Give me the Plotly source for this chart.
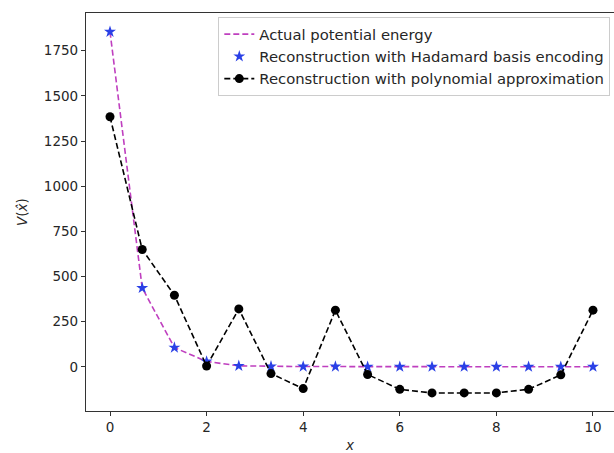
import plotly.graph_objects as go

# Data
x_vals = [0, 0.6667, 1.3333, 2.0, 2.6667, 3.3333, 4.0, 4.6667, 5.3333, 6.0,
          6.6667, 7.3333, 8.0, 8.6667, 9.3333, 10.0]
actual_energy = [1855, 437, 107, 30, 6, 3, 2, 2, 1, 1, 1, 1, 1, 1, 1, 1]
hadamard_recon = [1855, 437, 107, 30, 6, 3, 2, 2, 1, 1, 1, 1, 1, 1, 1, 1]
poly_recon = [1385, 650, 397, 5, 321, -37, -120, 314, -42, -124, -144, -144,
              -144, -124, -44, 314]

x_ticks = [0, 2, 4, 6, 8, 10]
y_ticks = [0, 250, 500, 750, 1000, 1250, 1500, 1750]

FONT = "DejaVu Sans"
TXT = "#262626"

fig = go.Figure()

fig.add_trace(go.Scatter(
    x=x_vals, y=actual_energy, mode="lines",
    name="Actual potential energy",
    line=dict(color="#bf3fbf", width=1.6, dash="6px,3px"),
))
fig.add_trace(go.Scatter(
    x=x_vals, y=hadamard_recon, mode="markers",
    name="Reconstruction with Hadamard basis encoding",
    marker=dict(symbol="star", size=9, color="#2a40e6", line=dict(width=0)),
))
fig.add_trace(go.Scatter(
    x=x_vals, y=poly_recon, mode="lines+markers",
    name="Reconstruction with polynomial approximation",
    line=dict(color="black", width=1.6, dash="6px,3px"),
    marker=dict(symbol="circle", size=9, color="black"),
))

fig.update_layout(
    width=614, height=453,
    margin=dict(l=86, r=0, t=13, b=42),
    paper_bgcolor="white", plot_bgcolor="white",
    font=dict(family=FONT, size=13.5, color=TXT),
    showlegend=True,
    legend=dict(
        x=0.993, y=0.99, xanchor="right", yanchor="top",
        bgcolor="rgba(255,255,255,0.9)", bordercolor="#cccccc", borderwidth=1,
        font=dict(family=FONT, size=14.8, color=TXT),
        tracegroupgap=0,
    ),
    xaxis=dict(
        range=[-0.497, 10.435], tickvals=x_ticks, ticktext=[str(v) for v in x_ticks],
        showgrid=False, zeroline=False,
        showline=True, linecolor="#333333", linewidth=1.2, mirror=True,
        ticks="outside", ticklen=4, tickcolor="#333333", tickwidth=1,
    ),
    yaxis=dict(
        range=[-244, 1959], tickvals=y_ticks, ticktext=[str(v) for v in y_ticks],
        showgrid=False, zeroline=False,
        showline=True, linecolor="#333333", linewidth=1.2,
        ticks="outside", ticklen=4, tickcolor="#333333", tickwidth=1,
    ),
    annotations=[
        dict(text="<i>x</i>", xref="paper", yref="paper", x=0.5, y=0,
             xanchor="center", yanchor="middle", yshift=-34, showarrow=False,
             font=dict(family=FONT, size=13.5, color=TXT)),
        dict(text="<i>V</i>(<i>x̂</i>)", xref="paper", yref="paper", x=0, y=0.5,
             xanchor="center", yanchor="middle", xshift=-64, textangle=-90,
             showarrow=False, font=dict(family=FONT, size=13.5, color=TXT)),
    ],
)

fig.write_html("out.html")
